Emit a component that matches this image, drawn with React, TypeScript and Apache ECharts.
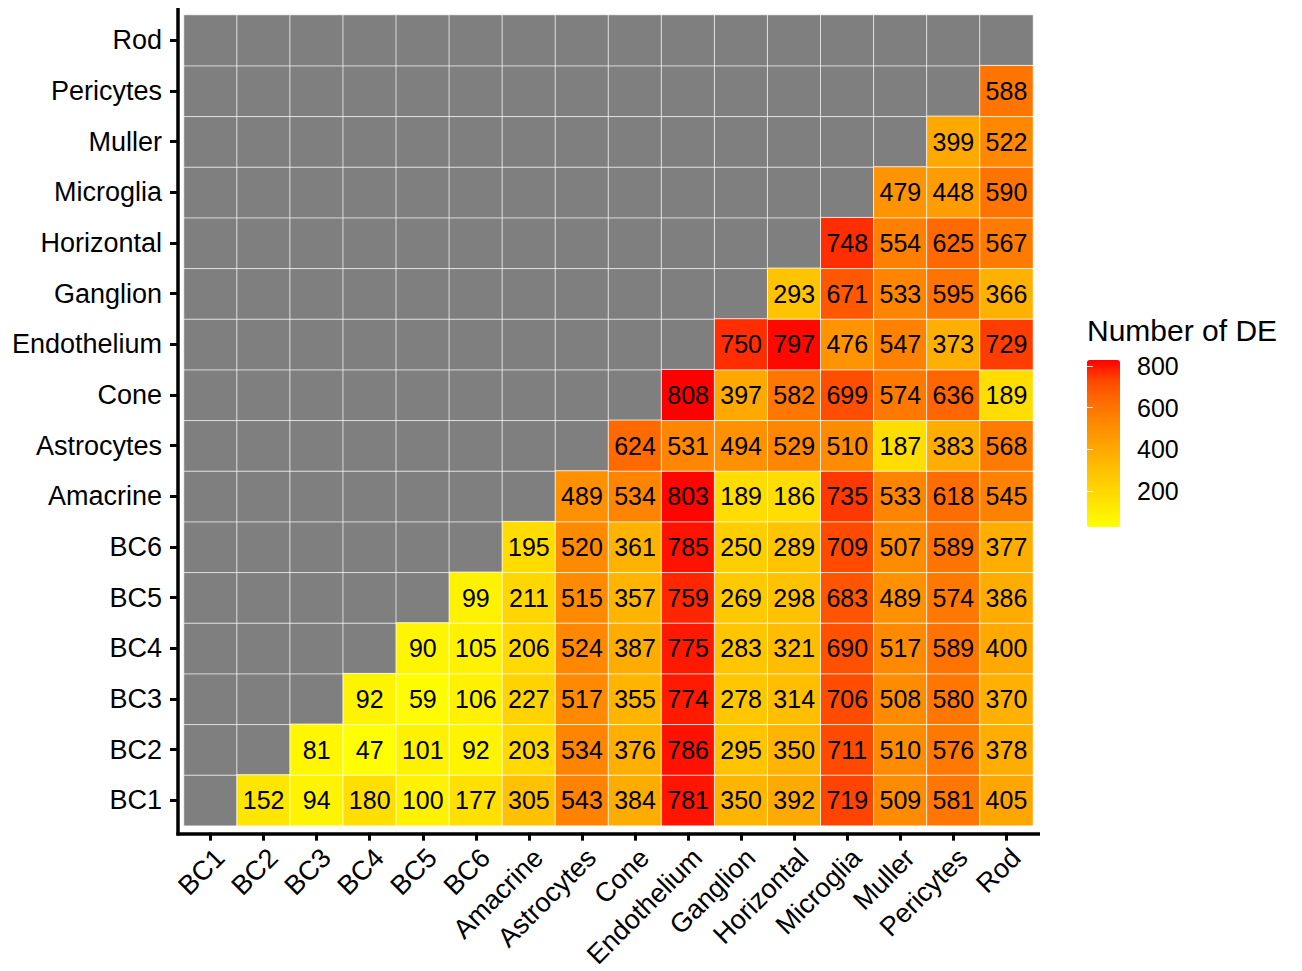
import React, { useEffect, useRef } from 'react';
import * as echarts from 'echarts';

const categories = [
  'BC1', 'BC2', 'BC3', 'BC4', 'BC5', 'BC6', 'Amacrine', 'Astrocytes', 'Cone',
  'Endothelium', 'Ganglion', 'Horizontal', 'Microglia', 'Muller', 'Pericytes', 'Rod',
];

// Each row lists the values for the columns to the right of the row's own category
const rowBC1 = [152, 94, 180, 100, 177, 305, 543, 384, 781, 350, 392, 719, 509, 581, 405];
const rowBC2 = [81, 47, 101, 92, 203, 534, 376, 786, 295, 350, 711, 510, 576, 378];
const rowBC3 = [92, 59, 106, 227, 517, 355, 774, 278, 314, 706, 508, 580, 370];
const rowBC4 = [90, 105, 206, 524, 387, 775, 283, 321, 690, 517, 589, 400];
const rowBC5 = [99, 211, 515, 357, 759, 269, 298, 683, 489, 574, 386];
const rowBC6 = [195, 520, 361, 785, 250, 289, 709, 507, 589, 377];
const rowAmacrine = [489, 534, 803, 189, 186, 735, 533, 618, 545];
const rowAstrocytes = [624, 531, 494, 529, 510, 187, 383, 568];
const rowCone = [808, 397, 582, 699, 574, 636, 189];
const rowEndothelium = [750, 797, 476, 547, 373, 729];
const rowGanglion = [293, 671, 533, 595, 366];
const rowHorizontal = [748, 554, 625, 567];
const rowMicroglia = [479, 448, 590];
const rowMuller = [399, 522];
const rowPericytes = [588];
const rowRod: number[] = [];

const legendTicks = [200, 400, 600, 800];
const colorMin = 47;
const colorMax = 808;
// yellow -> red ramp (Lab-interpolated stops)
const rampColors = ['#FFFF00', '#FFE800', '#FFD100', '#FFBA00', '#FFA100', '#FF8800', '#FF6C00', '#FF4900', '#FF0000'];
const naColor = '#7F7F7F';

const FONT = "'Liberation Sans', Arial, Helvetica, sans-serif";

export default function App() {
  const ref = useRef<HTMLDivElement>(null);

  useEffect(() => {
    if (!ref.current) return;
    const chart = echarts.init(ref.current, undefined, { renderer: 'svg' });

    const rows = [
      rowBC1, rowBC2, rowBC3, rowBC4, rowBC5, rowBC6, rowAmacrine, rowAstrocytes, rowCone,
      rowEndothelium, rowGanglion, rowHorizontal, rowMicroglia, rowMuller, rowPericytes, rowRod,
    ];
    const valueData: number[][] = [];
    const naData: number[][] = [];
    rows.forEach((row, yi) => {
      for (let xi = 0; xi <= yi; xi++) naData.push([xi, yi, 0]);
      row.forEach((v, k) => valueData.push([yi + 1 + k, yi, v]));
    });

    // bin-padded range for the colourbar axis (ggplot nbin = 20)
    const binPad = (colorMax - colorMin) / 19 / 2;

    chart.setOption({
      animation: false,
      textStyle: { fontFamily: FONT },
      title: {
        text: 'Number of DE',
        left: 1087,
        top: 315,
        padding: 0,
        textStyle: { fontFamily: FONT, fontSize: 30, fontWeight: 'normal', color: '#000' },
      },
      grid: [
        { left: 184, top: 15, width: 849, height: 812, containLabel: false },
        { left: 1087, top: 360, width: 33, height: 167, containLabel: false },
      ],
      xAxis: [
        {
          type: 'category',
          data: categories,
          gridIndex: 0,
          offset: 7,
          axisLine: { show: false },
          axisTick: { show: true, alignWithLabel: true, length: 8, lineStyle: { color: '#000', width: 3 } },
          axisLabel: { rotate: 45, fontSize: 27, color: '#000', margin: 11, verticalAlign: 'top', fontFamily: FONT },
          splitLine: { show: false },
        },
        { type: 'value', gridIndex: 1, show: false },
      ],
      yAxis: [
        {
          type: 'category',
          data: categories,
          gridIndex: 0,
          offset: 6,
          axisLine: { show: false },
          axisTick: { show: true, alignWithLabel: true, length: 8, lineStyle: { color: '#000', width: 3 } },
          axisLabel: { fontSize: 27, color: '#000', margin: 16, fontFamily: FONT },
          splitLine: { show: false },
        },
        {
          type: 'value',
          gridIndex: 1,
          position: 'right',
          min: colorMin - binPad,
          max: colorMax + binPad,
          axisLine: { show: false },
          axisTick: { show: true, inside: true, length: 6, customValues: legendTicks, lineStyle: { color: 'rgba(255,255,255,0.8)', width: 1 } },
          axisLabel: { show: true, customValues: legendTicks, fontSize: 25, color: '#000', margin: 17, fontFamily: FONT },
          splitLine: { show: false },
          z: 10,
        },
        {
          type: 'value',
          gridIndex: 1,
          position: 'left',
          min: colorMin - binPad,
          max: colorMax + binPad,
          axisLine: { show: false },
          axisTick: { show: true, inside: true, length: 6, customValues: legendTicks, lineStyle: { color: 'rgba(255,255,255,0.8)', width: 1 } },
          axisLabel: { show: false },
          splitLine: { show: false },
          z: 10,
        },
      ],
      visualMap: [
        {
          type: 'continuous',
          seriesIndex: 1,
          min: colorMin,
          max: colorMax,
          calculable: false,
          hoverLink: false,
          left: 1082,
          top: 355,
          padding: 5,
          itemWidth: 33,
          itemHeight: 167,
          text: null,
          inRange: { color: rampColors },
          z: 1,
        },
        {
          type: 'continuous',
          seriesIndex: 0,
          show: false,
          min: 0,
          max: 1,
          inRange: { color: [naColor, naColor] },
        },
      ],
      graphic: [
        { type: 'line', shape: { x1: 178, y1: 8, x2: 178, y2: 835.5 }, style: { stroke: '#000', lineWidth: 3.5 }, z: 100 },
        { type: 'line', shape: { x1: 176.5, y1: 834, x2: 1040, y2: 834 }, style: { stroke: '#000', lineWidth: 3.5 }, z: 100 },
      ],
      series: [
        {
          type: 'heatmap',
          xAxisIndex: 0,
          yAxisIndex: 0,
          data: naData,
          itemStyle: { borderColor: 'rgba(255,255,255,0.7)', borderWidth: 1 },
          label: { show: false },
          emphasis: { disabled: true },
        },
        {
          type: 'heatmap',
          xAxisIndex: 0,
          yAxisIndex: 0,
          data: valueData,
          itemStyle: { borderColor: 'rgba(255,255,255,0.8)', borderWidth: 1 },
          label: {
            show: true,
            fontSize: 25,
            color: '#000',
            fontFamily: FONT,
            formatter: (p: any) => String(p.value[2]),
          },
          emphasis: { disabled: true },
        },
      ],
    });

    return () => chart.dispose();
  }, []);

  return <div ref={ref} style={{ position: 'absolute', left: 0, top: 0, width: 1302, height: 971 }} />;
}
